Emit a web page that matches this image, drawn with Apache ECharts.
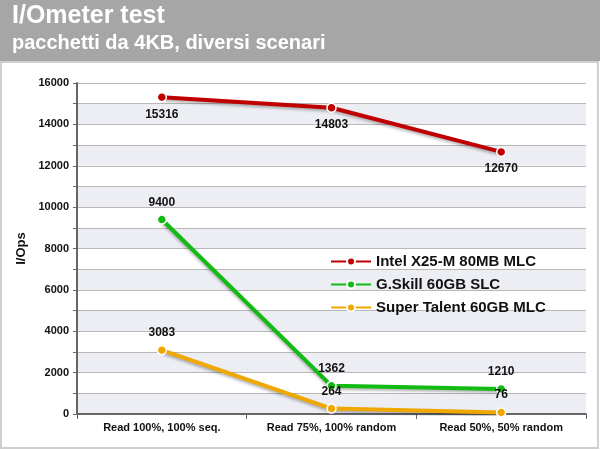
<!DOCTYPE html>
<html><head><meta charset="utf-8">
<script src="https://cdn.jsdelivr.net/npm/echarts@6/dist/echarts.min.js"></script>
<style>body{margin:0}#c{width:600px;height:450px}</style>
</head><body><div id="c"></div>
<script>
const categories = ['Read 100%, 100% seq.', 'Read 75%, 100% random', 'Read 50%, 50% random']
const intel = [15316, 14803, 12670]
const gskill = [9400, 1362, 1210]
const superTalent = [3083, 264, 76]

const chart = echarts.init(document.getElementById('c'))

function line(name, data, color, pos) {
  return {
    name, type: 'line', data,
    symbol: 'circle', symbolSize: 9,
    itemStyle: { color, borderColor: '#fff', borderWidth: 1.5 },
    lineStyle: { width: 4, color, shadowColor: 'rgba(0,0,0,0.3)', shadowBlur: 3, shadowOffsetY: 2 },
    label: { show: true, position: pos, distance: 6, color: '#111', fontWeight: 'bold', fontSize: 12, fontFamily: 'Liberation Sans' }
  }
}

chart.setOption({
  animation: false,
  textStyle: { fontFamily: 'Liberation Sans' },
  graphic: [
    { type: 'rect', shape: { x: 0, y: 0, width: 600, height: 61 }, style: { fill: '#a6a6a6' } },
    { type: 'rect', shape: { x: 1, y: 62, width: 597, height: 386 }, style: { fill: '#fff', stroke: '#cfcfcf', lineWidth: 2 } },
    { type: 'text', left: 12, top: 4, style: { text: 'I/Ometer test', fill: '#fff', font: 'bold 25px Liberation Sans' } },
    { type: 'text', left: 12, top: 33, style: { text: 'pacchetti da 4KB, diversi scenari', fill: '#fff', font: 'bold 20px Liberation Sans' } }
  ],
  grid: { left: 77, right: 14, top: 83, bottom: 36 },
  legend: {
    orient: 'vertical', left: 325, top: 249, itemGap: 8, itemWidth: 40, itemHeight: 10,
    textStyle: { fontSize: 15, fontWeight: 'bold', color: '#111' },
    data: ['Intel X25-M 80MB MLC', 'G.Skill 60GB SLC', 'Super Talent 60GB MLC']
  },
  xAxis: {
    type: 'category', data: categories, boundaryGap: true,
    axisLine: { lineStyle: { color: '#666', width: 2 } },
    axisTick: { show: true, lineStyle: { color: '#666' } },
    axisLabel: { color: '#111', fontWeight: 'bold', fontSize: 11, margin: 8 }
  },
  yAxis: {
    type: 'value', min: 0, max: 16000, interval: 1000,
    name: 'I/Ops', nameLocation: 'middle', nameGap: 44, nameRotate: 90,
    nameTextStyle: { fontWeight: 'bold', fontSize: 13, color: '#111' },
    axisLine: { show: true, lineStyle: { color: '#666', width: 2 } },
    axisTick: { show: true, length: 4, lineStyle: { color: '#666' } },
    axisLabel: { color: '#111', fontWeight: 'bold', fontSize: 11, formatter: v => v % 2000 === 0 ? v : '' },
    splitLine: { lineStyle: { color: '#b8b8b8', width: 1 } },
    splitArea: { show: true, areaStyle: { color: ['#eceef3', '#ffffff'] } }
  },
  series: [
    line('Intel X25-M 80MB MLC', intel, '#c00000', 'bottom'),
    line('G.Skill 60GB SLC', gskill, '#11bb11', 'top'),
    line('Super Talent 60GB MLC', superTalent, '#f0a800', 'top')
  ]
})
</script></body></html>
